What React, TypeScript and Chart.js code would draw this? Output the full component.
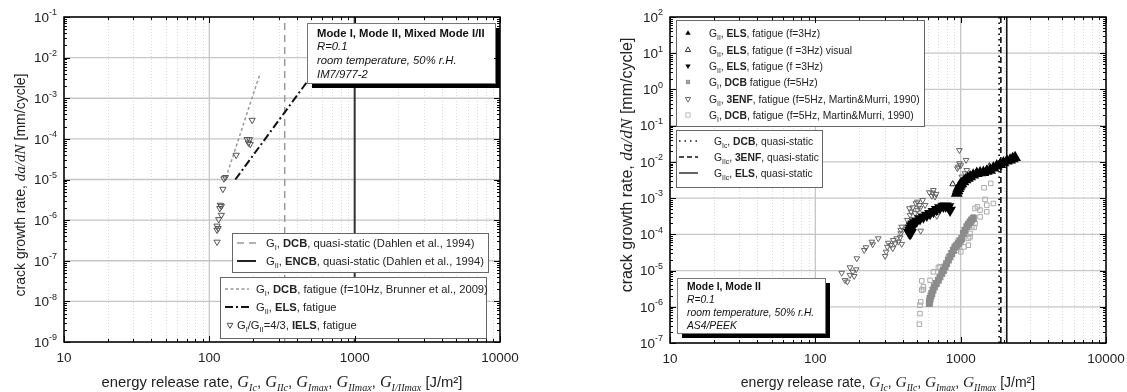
import React, { useEffect, useRef } from "react";
import { Chart, registerables } from "chart.js";

Chart.register(...registerables);

const SANS = '"Liberation Sans", Arial, Helvetica, sans-serif';
const SERIF = '"Liberation Serif", "Times New Roman", Times, serif';

// ---------------- axes ----------------
const X_RANGE = [10, 10000];
const X_TICK_VALUES = [10, 100, 1000, 10000];
const X_TICK_LABELS = ["10", "100", "1000", "10000"];
const LEFT_Y_RANGE = [1e-9, 1e-1];
const LEFT_Y_EXPONENTS = [-1, -2, -3, -4, -5, -6, -7, -8, -9];
const RIGHT_Y_RANGE = [1e-7, 1e2];
const RIGHT_Y_EXPONENTS = [2, 1, 0, -1, -2, -3, -4, -5, -6, -7];

// ---------------- left panel (IM7/977-2) ----------------
const L_GI_DCB_QS = 330;
const L_GII_ENCB_QS = 1000;
const L_GI_DCB_FAT_G = [130, 224];
const L_GI_DCB_FAT_RATE = [1.1e-5, 4.2e-3];
const L_GII_ELS_FAT_G = [151, 480];
const L_GII_ELS_FAT_RATE = [1.0e-5, 2.8e-3];
const L_IELS_G = [197, 182, 189, 186, 191, 153, 129, 126, 124, 119, 121, 118, 121, 116, 113, 115, 113, 113];
const L_IELS_RATE = [2.9e-4, 9.7e-5, 9.7e-5, 8.0e-5, 7.4e-5, 4.0e-5, 1.13e-5, 1.05e-5, 5.8e-6, 2.35e-6, 2.2e-6, 1.95e-6, 1.33e-6, 1.04e-6, 7.2e-7, 6.3e-7, 5.7e-7, 2.9e-7];

// ---------------- right panel (AS4/PEEK) ----------------
const R_GIC_DCB_QS = 1840;
const R_GIIC_3ENF_QS = 1890;
const R_GIIC_ELS_QS = 2075;

const R_ELS_A_G = [940, 952, 964, 977, 990, 1010, 1044, 1080, 1120, 1161, 1220, 1291, 1360, 1433, 1510, 1594, 1680, 1772, 1870, 1968, 2080, 2188, 2280, 2368];
const R_ELS_A_RATE = [1.35e-3, 1.6e-3, 1.85e-3, 2.05e-3, 2.29e-3, 2.5e-3, 2.82e-3, 3.2e-3, 3.5e-3, 3.87e-3, 4.3e-3, 4.8e-3, 5.0e-3, 5.1e-3, 5.5e-3, 5.9e-3, 6.8e-3, 7.7e-3, 8.5e-3, 9.4e-3, 1.05e-2, 1.12e-2, 1.22e-2, 1.31e-2];

const R_ELS_VIS_G = [882, 1576];
const R_ELS_VIS_RATE = [2.44e-3, 7.65e-3];

const R_ELS_B_G = [440, 448, 455, 448, 452, 460, 470, 485, 499, 525, 554, 585, 616, 650, 685, 720, 760, 790, 823, 845];
const R_ELS_B_RATE = [1.15e-4, 1.05e-4, 1.12e-4, 1.3e-4, 1.5e-4, 1.7e-4, 1.9e-4, 2.1e-4, 2.36e-4, 2.7e-4, 3.04e-4, 3.4e-4, 3.78e-4, 4.3e-4, 4.9e-4, 5.4e-4, 6.0e-4, 6.1e-4, 5.75e-4, 4.67e-4];

const R_DCB5_G = [609, 612, 616, 625, 633, 645, 659, 680, 702, 720, 741, 760, 781, 800, 823, 845, 868, 890, 915, 940, 964, 990, 1018, 1044, 1070, 1102, 1130, 1161, 1190, 1223];
const R_DCB5_RATE = [1.23e-6, 1.45e-6, 1.69e-6, 2.0e-6, 2.33e-6, 2.9e-6, 3.55e-6, 4.4e-6, 5.4e-6, 6.7e-6, 8.3e-6, 1.0e-5, 1.26e-5, 1.55e-5, 1.94e-5, 2.4e-5, 2.96e-5, 3.6e-5, 4.5e-5, 5.0e-5, 5.6e-5, 6.5e-5, 7.7e-5, 1.06e-4, 1.3e-4, 1.61e-4, 1.9e-4, 2.2e-4, 2.5e-4, 2.75e-4];

const R_3ENF_MM_G = [152, 160, 166, 173, 173, 181, 185, 191, 193, 217, 223, 245, 248, 271, 302, 307, 313, 318, 330, 341, 344, 354, 363, 373, 383, 387, 393, 387, 393, 430, 444, 448, 456, 468, 486, 493, 504, 504, 520, 525, 531, 548, 569, 609, 633, 643, 649, 666, 677, 685, 949, 964, 980, 980, 1002, 1018, 1072, 1089, 1102];
const R_3ENF_MM_RATE = [8.6e-6, 5.4e-6, 4.9e-6, 7.5e-6, 1.22e-5, 9.2e-6, 7.0e-6, 1.07e-5, 2.16e-5, 3.66e-5, 4.35e-5, 6.2e-5, 5.26e-5, 7.7e-5, 2.5e-5, 3.29e-5, 4.5e-5, 5.8e-5, 5.0e-5, 4.1e-5, 6.9e-5, 5.6e-5, 7.7e-5, 6.2e-5, 8.2e-5, 1.06e-4, 5.4e-5, 1.31e-4, 1.61e-4, 2.47e-4, 5.2e-4, 3.4e-4, 4.2e-4, 5.5e-4, 3.8e-4, 7.1e-4, 7.9e-4, 4.7e-4, 6.4e-4, 5.2e-4, 1.25e-4, 8.8e-4, 6.4e-4, 1.44e-3, 1.14e-3, 1.4e-3, 1.66e-3, 1.09e-3, 1.29e-3, 3.2e-4, 6.6e-3, 7.3e-3, 9.1e-3, 2.1e-2, 8.0e-3, 3.9e-3, 4.8e-3, 1.12e-2, 5.9e-3];

const R_DCB_MM_G = [520, 525, 525, 531, 540, 554, 540, 554, 616, 649, 702, 721, 823, 891, 915, 940, 964, 1002, 1018, 1055, 1130, 1130, 1161, 1161, 1193, 1237, 1256, 1193, 1223, 1360, 1360, 1512, 1256, 1303, 1512, 1680, 1472, 1449, 1611];
const R_DCB_MM_RATE = [3.3e-7, 6.5e-7, 1.1e-6, 1.36e-6, 2.9e-6, 3.0e-6, 5.2e-6, 3.55e-6, 5.4e-6, 9.2e-6, 1.22e-5, 1.26e-5, 2.4e-5, 4.1e-5, 4.1e-5, 3.66e-5, 6.9e-5, 3.3e-5, 6.9e-5, 4.5e-5, 5.0e-5, 7.7e-5, 8.5e-5, 1.06e-4, 1.61e-4, 1.55e-4, 2.0e-4, 2.47e-4, 3.04e-4, 3.04e-4, 4.67e-4, 4.2e-4, 5.2e-4, 5.75e-4, 6.4e-4, 7.1e-4, 9.2e-4, 1.93e-3, 2.55e-3];

// ---------------- texts ----------------
const LEFT_INFO_LINES = ["Mode I, Mode II, Mixed Mode I/II", "R=0.1", "room temperature, 50% r.H.", "IM7/977-2"];
const RIGHT_INFO_LINES = ["Mode I, Mode II", "R=0.1", "room temperature, 50% r.H.", "AS4/PEEK"];
const LEFT_LEGEND_A_TEXT = ["G_{I}, **DCB**, quasi-static (Dahlen et al., 1994)", "G_{II}, **ENCB**, quasi-static (Dahlen et al., 1994)"];
const LEFT_LEGEND_B_TEXT = ["G_{I}, **DCB**, fatigue (f=10Hz, Brunner et al., 2009)", "G_{II}, **ELS**, fatigue", "G_{I}/G_{II}=4/3, **IELS**, fatigue"];
const RIGHT_LEGEND_1_TEXT = [
  "G_{II}, **ELS**, fatigue (f=3Hz)",
  "G_{II}, **ELS**, fatigue (f =3Hz) visual",
  "G_{II}, **ELS**, fatigue (f =3Hz)",
  "G_{I}, **DCB** fatigue (f=5Hz)",
  "G_{II}, **3ENF**, fatigue (f=5Hz, Martin&Murri, 1990)",
  "G_{I}, **DCB**, fatigue (f=5Hz, Martin&Murri, 1990)",
];
const RIGHT_LEGEND_2_TEXT = ["G_{Ic}, **DCB**, quasi-static", "G_{IIc}, **3ENF**, quasi-static", "G_{IIc}, **ELS**, quasi-static"];

// ---------------- helpers ----------------
type Seg = { t: string; f: string; dy?: number };
function font(size: number, o: any = {}) {
  return `${o.i ? "italic " : ""}${o.b ? "bold " : ""}${size}px ${o.serif ? SERIF : SANS}`;
}
function rich(text: string, size: number, italic = false): Seg[] {
  const parts = text.split(/(\*\*[^*]+\*\*|_\{[^}]*\})/).filter((p) => p.length > 0);
  const segs: Seg[] = [];
  for (const p of parts) {
    if (p.startsWith("**")) segs.push({ t: p.slice(2, -2), f: font(size, { b: true, i: italic }) });
    else if (p.startsWith("_{")) segs.push({ t: p.slice(2, -1), f: font(size * 0.66, { i: italic }), dy: size * 0.3 });
    else segs.push({ t: p, f: font(size, { i: italic }) });
  }
  return segs;
}
function segsWidth(ctx: any, segs: Seg[]) {
  let w = 0;
  for (const s of segs) {
    ctx.font = s.f;
    w += ctx.measureText(s.t).width;
  }
  return w;
}
function drawSegs(ctx: any, segs: Seg[], x: number, y: number) {
  let cx = x;
  for (const s of segs) {
    ctx.font = s.f;
    ctx.fillText(s.t, cx, y + (s.dy || 0));
    cx += ctx.measureText(s.t).width;
  }
  return cx;
}
function gSym(sub: string, size: number): Seg[] {
  return [
    { t: "G", f: font(size, { i: true, serif: true }) },
    { t: sub, f: font(size * 0.62, { i: true, serif: true }), dy: size * 0.27 },
  ];
}
function pts(xs: number[], ys: number[]) {
  return xs.map((x, i) => ({ x, y: ys[i] }));
}
function vline(x: number, range: number[]) {
  return [{ x, y: range[0] }, { x, y: range[1] }];
}

function drawMarker(ctx: any, mark: string, color: string, x: number, y: number, r: number) {
  ctx.save();
  ctx.setLineDash([]);
  ctx.lineWidth = 1;
  ctx.strokeStyle = color;
  ctx.fillStyle = color;
  ctx.beginPath();
  if (mark.startsWith("tri-up")) {
    ctx.moveTo(x, y - r);
    ctx.lineTo(x + r * 0.866, y + r * 0.5);
    ctx.lineTo(x - r * 0.866, y + r * 0.5);
    ctx.closePath();
  } else if (mark.startsWith("tri-down")) {
    ctx.moveTo(x, y + r);
    ctx.lineTo(x + r * 0.866, y - r * 0.5);
    ctx.lineTo(x - r * 0.866, y - r * 0.5);
    ctx.closePath();
  } else {
    ctx.rect(x - r * 0.7, y - r * 0.7, r * 1.4, r * 1.4);
  }
  if (mark.endsWith("open")) ctx.stroke();
  else ctx.fill();
  ctx.restore();
}
const LINE_STYLES: any = {
  dash: { dash: [7, 5], w: 1.5 },
  solid: { dash: [], w: 2 },
  thin: { dash: [], w: 1.3 },
  shortdash: { dash: [3, 2.5], w: 1.5 },
  dashdot: { dash: [8, 3, 2, 3], w: 2 },
  dotted: { dash: [1.5, 4], w: 1.5 },
  dashed: { dash: [5, 3], w: 1.5 },
};

type Item = { mark: string; color: string; text: string; markX?: number; textX?: number };
type LegendBox = { x: number; y: number; w: number; h: number; rows: number[]; markX0: number; markX1: number; textX: number; size: number; items: Item[] };
type InfoBox = { x: number; y: number; w: number; h: number; rows: number[]; textX: number; size: number; lines: string[] };

type PanelSpec = {
  id: string;
  ox: number;
  yExps: number[];
  legends: LegendBox[];
  info: InfoBox;
  xTitle: Seg[];
  yTitle: Seg[];
  yTitleX: number;
  yTitleY: number;
  xTitleY: number;
};

function decorPlugin(p: PanelSpec) {
  return {
    id: "decor" + p.id,
    beforeDraw(chart: any) {
      const ctx = chart.ctx;
      ctx.save();
      ctx.fillStyle = "#fff";
      ctx.fillRect(0, 0, chart.width, chart.height);
      ctx.restore();
    },
    beforeDatasetsDraw(chart: any) {
      const { ctx, chartArea: a, scales } = chart;
      const xs = scales.x;
      const ys = scales.y;
      ctx.save();
      // minor vertical grid
      ctx.strokeStyle = "#d9d9d9";
      ctx.lineWidth = 1;
      ctx.setLineDash([1, 2]);
      for (let d = X_RANGE[0]; d < X_RANGE[1]; d *= 10) {
        for (let k = 2; k <= 9; k++) {
          const px = Math.round(xs.getPixelForValue(k * d)) + 0.5;
          ctx.beginPath();
          ctx.moveTo(px, a.top);
          ctx.lineTo(px, a.bottom);
          ctx.stroke();
        }
      }
      ctx.setLineDash([]);
      ctx.strokeStyle = "#c6c6c6";
      ctx.lineWidth = 1.3;
      for (const v of X_TICK_VALUES) {
        const px = xs.getPixelForValue(v);
        ctx.beginPath();
        ctx.moveTo(px, a.top);
        ctx.lineTo(px, a.bottom);
        ctx.stroke();
      }
      for (const e of p.yExps) {
        const py = ys.getPixelForValue(Math.pow(10, e));
        ctx.beginPath();
        ctx.moveTo(a.left, py);
        ctx.lineTo(a.right, py);
        ctx.stroke();
      }
      ctx.restore();
    },
    afterDatasetsDraw(chart: any) {
      const { ctx, chartArea: a, scales } = chart;
      const xs = scales.x;
      const ys = scales.y;
      const ox = p.ox;
      ctx.save();
      ctx.textBaseline = "alphabetic";
      ctx.textAlign = "left";

      // info box with shadow
      const ib = p.info;
      ctx.fillStyle = "#000";
      ctx.fillRect(ib.x - ox + 5, ib.y + 5, ib.w, ib.h);
      ctx.fillStyle = "#fff";
      ctx.fillRect(ib.x - ox, ib.y, ib.w, ib.h);
      ctx.strokeStyle = "#777";
      ctx.lineWidth = 1;
      ctx.strokeRect(ib.x - ox + 0.5, ib.y + 0.5, ib.w, ib.h);
      ctx.fillStyle = "#111";
      ib.lines.forEach((ln, i) => {
        ctx.font = font(ib.size, i === 0 ? { b: true } : { i: true });
        ctx.fillText(ln, ib.textX - ox, ib.rows[i] + ib.size * 0.36);
      });

      // legends
      for (const lg of p.legends) {
        ctx.fillStyle = "#fff";
        ctx.fillRect(lg.x - ox, lg.y, lg.w, lg.h);
        ctx.strokeStyle = "#666";
        ctx.lineWidth = 1;
        ctx.setLineDash([]);
        ctx.strokeRect(lg.x - ox + 0.5, lg.y + 0.5, lg.w, lg.h);
        lg.items.forEach((it, i) => {
          const y = lg.rows[i];
          const ls = LINE_STYLES[it.mark];
          if (ls) {
            ctx.save();
            ctx.strokeStyle = it.color;
            ctx.lineWidth = ls.w;
            ctx.setLineDash(ls.dash);
            ctx.beginPath();
            ctx.moveTo(lg.markX0 - ox, y);
            ctx.lineTo(lg.markX1 - ox, y);
            ctx.stroke();
            ctx.restore();
          } else {
            const mx = it.markX !== undefined ? it.markX : (lg.markX0 + lg.markX1) / 2;
            drawMarker(ctx, it.mark, it.color, mx - ox, y, lg.size * 0.3);
          }
          ctx.fillStyle = "#222";
          drawSegs(ctx, rich(it.text, lg.size), (it.textX !== undefined ? it.textX : lg.textX) - ox, y + lg.size * 0.36);
        });
      }

      // frame
      ctx.strokeStyle = "#000";
      ctx.lineWidth = 1.5;
      ctx.strokeRect(a.left, a.top, a.right - a.left, a.bottom - a.top);

      // tick marks (inward, all four sides)
      ctx.lineWidth = 1;
      for (let d = X_RANGE[0]; d <= X_RANGE[1]; d *= 10) {
        for (let k = 1; k <= 9; k++) {
          const v = k * d;
          if (v > X_RANGE[1] * 1.0001) break;
          const px = Math.round(xs.getPixelForValue(v)) + 0.5;
          const len = k === 1 ? 6 : 3;
          ctx.beginPath();
          ctx.moveTo(px, a.bottom);
          ctx.lineTo(px, a.bottom - len);
          ctx.moveTo(px, a.top);
          ctx.lineTo(px, a.top + len);
          ctx.stroke();
        }
      }
      const eMin = Math.min(...p.yExps);
      const eMax = Math.max(...p.yExps);
      for (let e = eMin; e <= eMax; e++) {
        for (let k = 1; k <= 9; k++) {
          if (e === eMax && k > 1) break;
          const py = Math.round(ys.getPixelForValue(k * Math.pow(10, e))) + 0.5;
          const len = k === 1 ? 6 : 3;
          ctx.beginPath();
          ctx.moveTo(a.left, py);
          ctx.lineTo(a.left + len, py);
          ctx.moveTo(a.right, py);
          ctx.lineTo(a.right - len, py);
          ctx.stroke();
        }
      }

      // tick labels
      ctx.fillStyle = "#222";
      X_TICK_VALUES.forEach((v, i) => {
        const px = xs.getPixelForValue(v);
        ctx.font = font(13.5);
        const w = ctx.measureText(X_TICK_LABELS[i]).width;
        ctx.fillText(X_TICK_LABELS[i], px - w / 2, a.bottom + 19.5);
      });
      for (const e of p.yExps) {
        const py = ys.getPixelForValue(Math.pow(10, e));
        const segs: Seg[] = [
          { t: "10", f: font(13.5) },
          { t: String(e), f: font(9), dy: -6.5 },
        ];
        const w = segsWidth(ctx, segs);
        drawSegs(ctx, segs, a.left - 7 - w, py + 4.8);
      }

      // axis titles
      const xw = segsWidth(ctx, p.xTitle);
      drawSegs(ctx, p.xTitle, (a.left + a.right) / 2 - xw / 2, p.xTitleY);
      ctx.save();
      ctx.translate(p.yTitleX - ox, p.yTitleY);
      ctx.rotate(-Math.PI / 2);
      const yw = segsWidth(ctx, p.yTitle);
      drawSegs(ctx, p.yTitle, -yw / 2, 5);
      ctx.restore();

      ctx.restore();
    },
  };
}

function xTitleSegs(includeMixed: boolean, size: number): Seg[] {
  const s: Seg[] = [{ t: "energy release rate, ", f: font(size) }];
  const subs = includeMixed ? ["Ic", "IIc", "Imax", "IImax", "I/IImax"] : ["Ic", "IIc", "Imax", "IImax"];
  subs.forEach((sub, i) => {
    s.push(...gSym(sub, size * 1.1));
    if (i < subs.length - 1) s.push({ t: ", ", f: font(size) });
  });
  s.push({ t: " [J/m²]", f: font(size) });
  return s;
}
function yTitleSegs(size: number): Seg[] {
  return [
    { t: "crack growth rate, ", f: font(size) },
    { t: "da/dN", f: font(size * 1.08, { i: true, serif: true }) },
    { t: " [mm/cycle]", f: font(size) },
  ];
}

function baseOptions(yRange: number[], padding: any) {
  return {
    responsive: false,
    animation: false,
    devicePixelRatio: 1,
    events: [],
    layout: { padding },
    scales: {
      x: { type: "logarithmic", min: X_RANGE[0], max: X_RANGE[1], display: false },
      y: { type: "logarithmic", min: yRange[0], max: yRange[1], display: false },
    },
    plugins: { legend: { display: false }, tooltip: { enabled: false } },
  };
}

function leftConfig(): any {
  const spec: PanelSpec = {
    id: "L",
    ox: 0,
    yExps: LEFT_Y_EXPONENTS,
    info: { x: 307, y: 23, w: 188, h: 60, rows: [32.7, 45.7, 60, 74], textX: 317, size: 11.3, lines: LEFT_INFO_LINES },
    legends: [
      {
        x: 232, y: 233, w: 256, h: 39, rows: [243, 261], markX0: 237, markX1: 256, textX: 266, size: 11.2,
        items: [
          { mark: "dash", color: "#999", text: LEFT_LEGEND_A_TEXT[0] },
          { mark: "solid", color: "#222", text: LEFT_LEGEND_A_TEXT[1] },
        ],
      },
      {
        x: 220, y: 277, w: 266, h: 61, rows: [289, 307, 325], markX0: 225, markX1: 249, textX: 256, size: 11.2,
        items: [
          { mark: "shortdash", color: "#999", text: LEFT_LEGEND_B_TEXT[0] },
          { mark: "dashdot", color: "#111", text: LEFT_LEGEND_B_TEXT[1] },
          { mark: "tri-down-open", color: "#555", text: LEFT_LEGEND_B_TEXT[2], markX: 230, textX: 237 },
        ],
      },
    ],
    xTitle: xTitleSegs(true, 14.8),
    yTitle: yTitleSegs(14),
    yTitleX: 20,
    yTitleY: 185,
    xTitleY: 387,
  };
  return {
    type: "scatter",
    data: {
      datasets: [
        {
          label: "GI/GII=4/3, IELS, fatigue",
          data: pts(L_IELS_G, L_IELS_RATE),
          pointStyle: "triangle",
          pointRotation: 180,
          pointRadius: 3.6,
          pointBorderWidth: 1,
          pointBorderColor: "#555",
          pointBackgroundColor: "rgba(0,0,0,0)",
          showLine: false,
        },
        {
          label: "GII, ELS, fatigue",
          data: pts(L_GII_ELS_FAT_G, L_GII_ELS_FAT_RATE),
          showLine: true,
          borderColor: "#111",
          borderWidth: 2,
          borderDash: [8, 3, 2, 3],
          pointRadius: 0,
        },
        {
          label: "GI, DCB, fatigue",
          data: pts(L_GI_DCB_FAT_G, L_GI_DCB_FAT_RATE),
          showLine: true,
          borderColor: "#999",
          borderWidth: 1.5,
          borderDash: [3, 2.5],
          pointRadius: 0,
        },
        {
          label: "GII, ENCB, quasi-static",
          data: vline(L_GII_ENCB_QS, LEFT_Y_RANGE),
          showLine: true,
          borderColor: "#333",
          borderWidth: 2,
          pointRadius: 0,
        },
        {
          label: "GI, DCB, quasi-static",
          data: vline(L_GI_DCB_QS, LEFT_Y_RANGE),
          showLine: true,
          borderColor: "#999",
          borderWidth: 1.5,
          borderDash: [7, 5],
          pointRadius: 0,
        },
      ],
    },
    options: baseOptions(LEFT_Y_RANGE, { left: 64, right: 63, top: 17, bottom: 50 }),
    plugins: [decorPlugin(spec)],
  };
}

function rightConfig(): any {
  const spec: PanelSpec = {
    id: "R",
    ox: 563,
    yExps: RIGHT_Y_EXPONENTS,
    info: { x: 677, y: 278, w: 148, h: 55, rows: [286.7, 299.3, 312.7, 325], textX: 687, size: 10.3, lines: RIGHT_INFO_LINES },
    legends: [
      {
        x: 676, y: 20, w: 248, h: 106, rows: [33.3, 50, 66, 82, 99, 115], markX0: 688, markX1: 688, textX: 709, size: 10.3,
        items: [
          { mark: "tri-up", color: "#000", text: RIGHT_LEGEND_1_TEXT[0] },
          { mark: "tri-up-open", color: "#333", text: RIGHT_LEGEND_1_TEXT[1] },
          { mark: "tri-down", color: "#000", text: RIGHT_LEGEND_1_TEXT[2] },
          { mark: "sq", color: "#999", text: RIGHT_LEGEND_1_TEXT[3] },
          { mark: "tri-down-open", color: "#666", text: RIGHT_LEGEND_1_TEXT[4] },
          { mark: "sq-open", color: "#bbb", text: RIGHT_LEGEND_1_TEXT[5] },
        ],
      },
      {
        x: 676, y: 130, w: 146, h: 57, rows: [141, 157, 173], markX0: 679, markX1: 698, textX: 714, size: 10.3,
        items: [
          { mark: "dotted", color: "#111", text: RIGHT_LEGEND_2_TEXT[0] },
          { mark: "dashed", color: "#111", text: RIGHT_LEGEND_2_TEXT[1] },
          { mark: "thin", color: "#111", text: RIGHT_LEGEND_2_TEXT[2] },
        ],
      },
    ],
    xTitle: xTitleSegs(false, 14),
    yTitle: yTitleSegs(16),
    yTitleX: 627,
    yTitleY: 165,
    xTitleY: 387,
  };
  return {
    type: "scatter",
    data: {
      datasets: [
        {
          label: "GII, ELS, fatigue (f=3Hz)",
          data: pts(R_ELS_A_G, R_ELS_A_RATE),
          showLine: true,
          borderColor: "#000",
          borderWidth: 4.5,
          pointStyle: "triangle",
          pointRadius: 2.4,
          pointBackgroundColor: "#000",
          pointBorderColor: "#000",
        },
        {
          label: "GII, ELS, fatigue (f=3Hz) visual",
          data: pts(R_ELS_VIS_G, R_ELS_VIS_RATE),
          pointStyle: "triangle",
          pointRadius: 3.4,
          pointBorderWidth: 1,
          pointBackgroundColor: "rgba(0,0,0,0)",
          pointBorderColor: "#222",
          showLine: false,
        },
        {
          label: "GII, ELS, fatigue (f=3Hz) b",
          data: pts(R_ELS_B_G, R_ELS_B_RATE),
          showLine: true,
          borderColor: "#000",
          borderWidth: 4.5,
          pointStyle: "triangle",
          pointRotation: 180,
          pointRadius: 2.4,
          pointBackgroundColor: "#000",
          pointBorderColor: "#000",
        },
        {
          label: "GI, DCB fatigue (f=5Hz)",
          data: pts(R_DCB5_G, R_DCB5_RATE),
          showLine: true,
          borderColor: "#8c8c8c",
          borderWidth: 3,
          pointStyle: "rect",
          pointRadius: 2.8,
          pointBackgroundColor: "#8c8c8c",
          pointBorderColor: "#8c8c8c",
        },
        {
          label: "GII, 3ENF, fatigue (Martin&Murri)",
          data: pts(R_3ENF_MM_G, R_3ENF_MM_RATE),
          pointStyle: "triangle",
          pointRotation: 180,
          pointRadius: 3.3,
          pointBorderWidth: 1,
          pointBackgroundColor: "rgba(0,0,0,0)",
          pointBorderColor: "#666",
          showLine: false,
        },
        {
          label: "GI, DCB, fatigue (Martin&Murri)",
          data: pts(R_DCB_MM_G, R_DCB_MM_RATE),
          pointStyle: "rect",
          pointRadius: 3.2,
          pointBorderWidth: 1,
          pointBackgroundColor: "rgba(0,0,0,0)",
          pointBorderColor: "#aaa",
          showLine: false,
        },
        {
          label: "GIc, DCB, quasi-static",
          data: vline(R_GIC_DCB_QS, RIGHT_Y_RANGE),
          showLine: true,
          borderColor: "#111",
          borderWidth: 1.8,
          borderDash: [1.5, 4],
          pointRadius: 0,
        },
        {
          label: "GIIc, 3ENF, quasi-static",
          data: vline(R_GIIC_3ENF_QS, RIGHT_Y_RANGE),
          showLine: true,
          borderColor: "#111",
          borderWidth: 1.6,
          borderDash: [6, 4],
          pointRadius: 0,
        },
        {
          label: "GIIc, ELS, quasi-static",
          data: vline(R_GIIC_ELS_QS, RIGHT_Y_RANGE),
          showLine: true,
          borderColor: "#111",
          borderWidth: 1.6,
          pointRadius: 0,
        },
      ],
    },
    options: baseOptions(RIGHT_Y_RANGE, { left: 107, right: 21, top: 17, bottom: 49 }),
    plugins: [decorPlugin(spec)],
  };
}

export default function App() {
  const leftRef = useRef<HTMLCanvasElement>(null);
  const rightRef = useRef<HTMLCanvasElement>(null);
  useEffect(() => {
    const c1 = new Chart(leftRef.current as HTMLCanvasElement, leftConfig());
    const c2 = new Chart(rightRef.current as HTMLCanvasElement, rightConfig());
    return () => {
      c1.destroy();
      c2.destroy();
    };
  }, []);
  return (
    <div style={{ position: "fixed", left: 0, top: 0, width: 1127, height: 392, background: "#fff" }}>
      <canvas ref={leftRef} width={563} height={392} style={{ position: "absolute", left: 0, top: 0, width: 563, height: 392 }} />
      <canvas ref={rightRef} width={564} height={392} style={{ position: "absolute", left: 563, top: 0, width: 564, height: 392 }} />
    </div>
  );
}
